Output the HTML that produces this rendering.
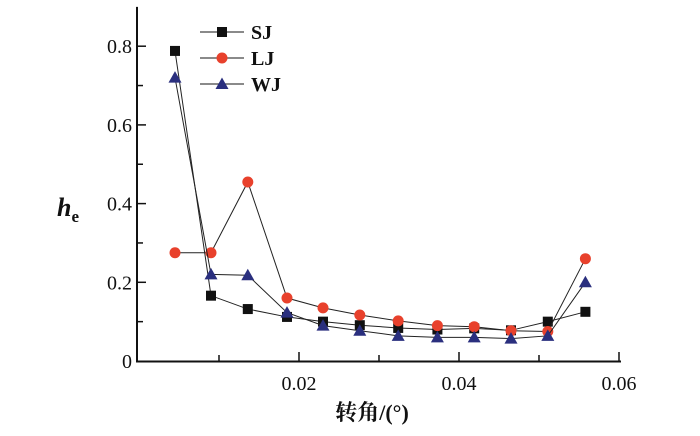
<!DOCTYPE html>
<html><head><meta charset="utf-8"><style>
html,body{margin:0;padding:0;background:#fff;}
svg{display:block;}
text{font-family:"Liberation Serif","Noto Serif CJK SC",serif;fill:#111;}
</style></head><body>
<svg id="chart" width="700" height="436"></svg>
<script>
const xValues=[0.0045,0.009,0.0136,0.0185,0.023,0.0276,0.0324,0.0373,0.0419,0.0465,0.0511,0.0558];
const sjValues=[0.788,0.166,0.132,0.112,0.100,0.091,0.084,0.080,0.083,0.078,0.100,0.125];
const ljValues=[0.275,0.275,0.455,0.160,0.135,0.117,0.102,0.090,0.087,0.077,0.075,0.260];
const wjValues=[0.720,0.220,0.218,0.123,0.090,0.077,0.064,0.060,0.060,0.057,0.064,0.200];
const xTicks=[0.02,0.04,0.06];
const xTickLabels=["0.02","0.04","0.06"];
const yTicks=[0,0.2,0.4,0.6,0.8];
const yTickLabels=["0","0.2","0.4","0.6","0.8"];
const NS="http://www.w3.org/2000/svg";
const svg=document.getElementById('chart');
const X0=139,XS=8000,Y0=361,YS=393.5;
function sx(v){return X0+v*XS;}
function sy(v){return Y0-v*YS;}
function mk(t,a,p){const e=document.createElementNS(NS,t);for(const k in a)e.setAttribute(k,a[k]);(p||svg).appendChild(e);return e;}
// axes
const ax=mk('path',{d:`M137 ${sy(0.9)} V361.5 H621`,fill:'none',stroke:'#111','stroke-width':2});


for(let i=1;i<=6;i++){const v=i*0.01;const t=mk('line',{x1:sx(v),x2:sx(v),y1:361,y2:i%2?355:352,stroke:'#111','stroke-width':1.5});

}
for(let i=1;i<=8;i++){const v=i*0.1;const t=mk('line',{x1:137,x2:i%2?143:146,y1:sy(v),y2:sy(v),stroke:'#111','stroke-width':1.5});

}
xTicks.forEach((v,i)=>{const t=mk('text',{x:sx(v),y:390,'text-anchor':'middle','font-size':20});t.textContent=xTickLabels[i];

});
yTicks.forEach((v,i)=>{const t=mk('text',{x:132,y:sy(v)+7,'text-anchor':'end','font-size':20});t.textContent=yTickLabels[i];

});
const yt=mk('text',{x:57,y:216,'font-size':26,'font-style':'italic','font-weight':'bold'});yt.innerHTML='h<tspan font-size="17" font-style="normal" dy="6">e</tspan>';


const xt=mk('text',{x:372,y:420,'text-anchor':'middle','font-size':22,'font-weight':'bold'});xt.textContent='转角/(°)';


function marker(type,x,y,g){
 if(type==='sq')return mk('rect',{x:x-5,y:y-5,width:10,height:10,fill:'#111'},g);
 if(type==='ci')return mk('circle',{cx:x,cy:y,r:5.5,fill:'#e8412c'},g);
 return mk('path',{d:`M${x} ${y-6.5} L${x+6.5} ${y+5} L${x-6.5} ${y+5}Z`,fill:'#2a2f7e'},g);
}
const series=[['sj',sjValues,'sq'],['lj',ljValues,'ci'],['wj',wjValues,'tr']];
series.forEach(([n,vals,m])=>{
 const g=mk('g',{});
 
 
 const l=mk('polyline',{points:vals.map((v,i)=>sx(xValues[i])+','+sy(v)).join(' '),fill:'none',stroke:'#222','stroke-width':1},g);
 
 
 vals.forEach((v,i)=>{const p=marker(m,sx(xValues[i]),sy(v),g);
 
 });
});
// legend
const lg=mk('g',{});


[['SJ','sq',32],['LJ','ci',58],['WJ','tr',84]].forEach(([lab,m,y])=>{
 const e=mk('g',{},lg);
 
 
 mk('line',{x1:200,x2:244,y1:y,y2:y,stroke:'#444','stroke-width':1.2},e);
 marker(m,222,y,e);
 const t=mk('text',{x:251,y:y+7,'font-size':20,'font-weight':'bold'},e);t.textContent=lab;
});
</script>
</body></html>
